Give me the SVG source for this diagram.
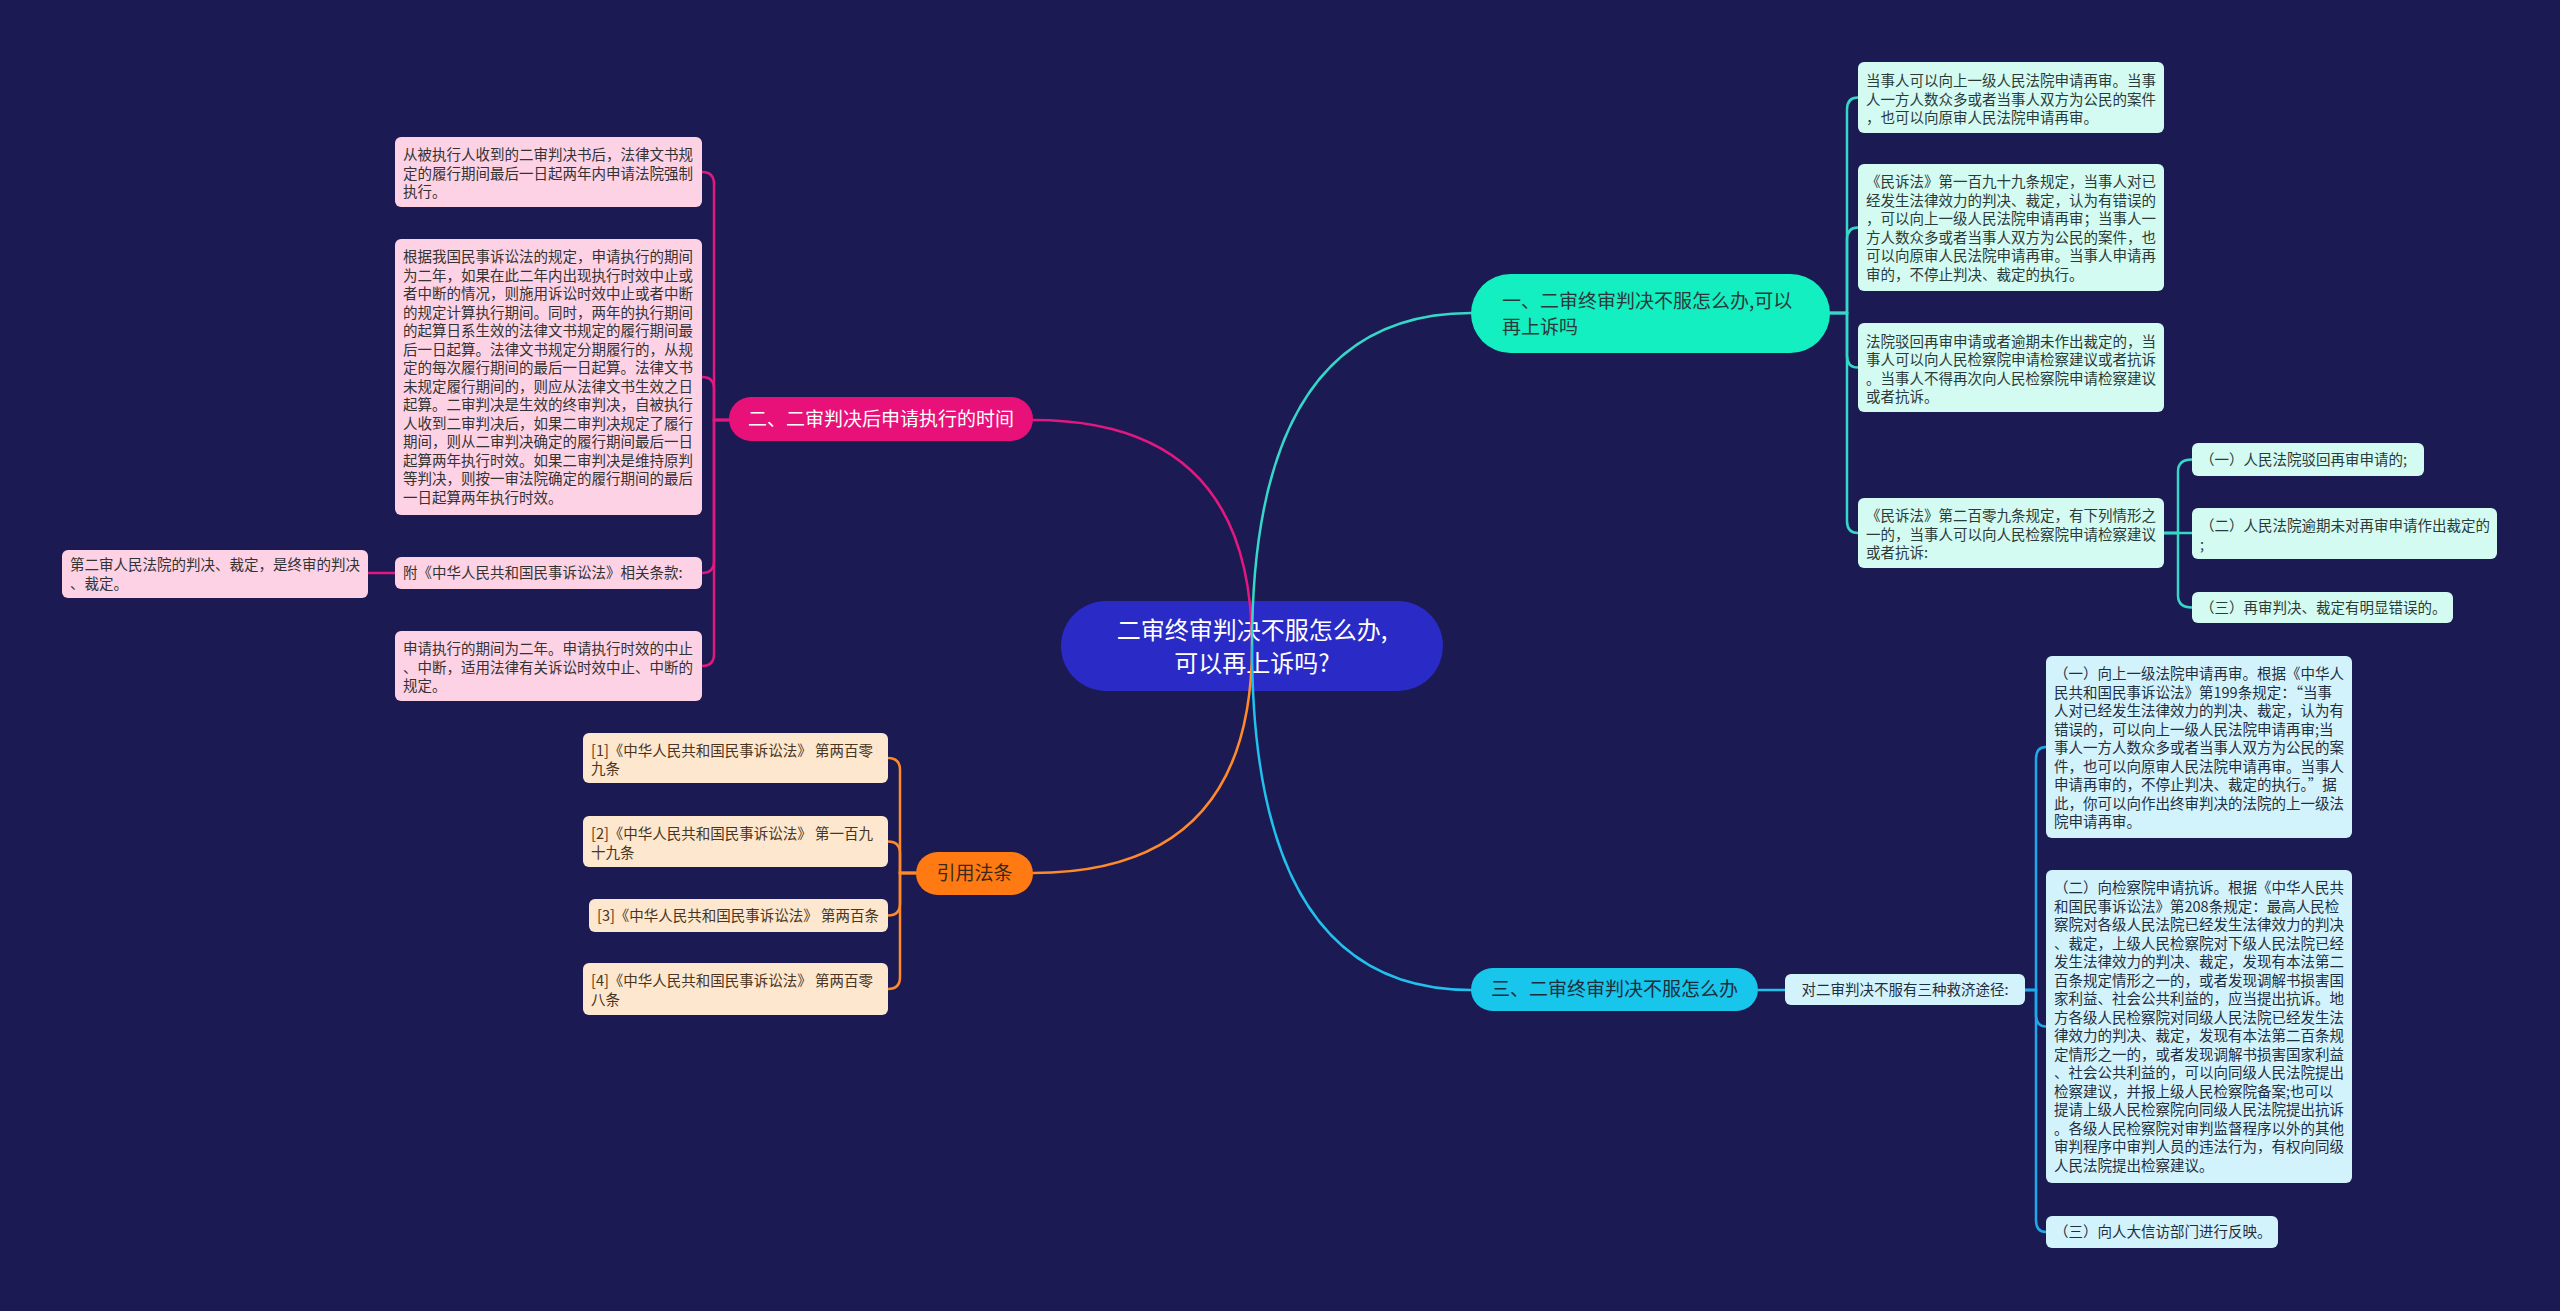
<svg xmlns="http://www.w3.org/2000/svg" width="2560" height="1311" viewBox="0 0 2560 1311">
<style>
text { font-family: "Noto Sans CJK SC", "Microsoft YaHei", "Noto Sans", sans-serif; }
.lf { font-size: 14.5px; }
.cp { fill: none; stroke-width: 2.5; stroke-linecap: round; }
.pk rect { fill: #fdd2e5; } .pk text { fill: #333333; }
.gr rect { fill: #d4fbf1; } .gr text { fill: #2b3a3a; }
.or rect { fill: #fde7cf; } .or text { fill: #4a3520; }
.bl rect { fill: #d3f3fc; } .bl text { fill: #1f2f3f; }
.br { font-size: 19px; }
</style>
<rect x="0" y="0" width="2560" height="1311" fill="#1b1a53"/>

<g id="root">
<rect x="1061" y="601" width="382" height="90" rx="45" fill="#2a2ac6"/>
<text x="1252" y="639" font-size="24" fill="#ffffff" text-anchor="middle">二审终审判决不服怎么办,</text>
<text x="1252" y="672" font-size="24" fill="#ffffff" text-anchor="middle">可以再上诉吗?</text>
</g>

<g id="connectors">
<path class="cp" stroke="#e0187f" d="M1252 646 Q1252 420 1033 420"/>
<path class="cp" stroke="#35d8c8" d="M1252 646 Q1252 313 1471 313"/>
<path class="cp" stroke="#ff8a2a" d="M1252 646 Q1252 873 1033 873"/>
<path class="cp" stroke="#22c0ec" d="M1252 646 Q1252 990 1471 990"/>

<path class="cp" stroke="#e0187f" d="M729 420 H714 V184 Q714 172 702 172"/>
<path class="cp" stroke="#e0187f" d="M729 420 H714 V389 Q714 377 702 377"/>
<path class="cp" stroke="#e0187f" d="M729 420 H714 V561 Q714 573 702 573"/>
<path class="cp" stroke="#e0187f" d="M729 420 H714 V654 Q714 666 702 666"/>
<path class="cp" stroke="#e0187f" d="M395 573 H368"/>

<path class="cp" stroke="#ff8a2a" d="M916 873 H900 V770 Q900 758 888 758"/>
<path class="cp" stroke="#ff8a2a" d="M916 873 H900 V853.5 Q900 841.5 888 841.5"/>
<path class="cp" stroke="#ff8a2a" d="M916 873 H900 V903.5 Q900 915.5 888 915.5"/>
<path class="cp" stroke="#ff8a2a" d="M916 873 H900 V977 Q900 989 888 989"/>

<path class="cp" stroke="#35d8c8" d="M1830 313 H1847 V109.5 Q1847 97.5 1858 97.5"/>
<path class="cp" stroke="#35d8c8" d="M1830 313 H1847 V239.5 Q1847 227.5 1858 227.5"/>
<path class="cp" stroke="#35d8c8" d="M1830 313 H1847 V355.5 Q1847 367.5 1858 367.5"/>
<path class="cp" stroke="#35d8c8" d="M1830 313 H1847 V521 Q1847 533 1858 533"/>

<path class="cp" stroke="#35d8c8" d="M2164 533 H2178 V471.5 Q2178 459.5 2192 459.5"/>
<path class="cp" stroke="#35d8c8" d="M2164 533 H2192"/>
<path class="cp" stroke="#35d8c8" d="M2164 533 H2178 V595.5 Q2178 607.5 2192 607.5"/>

<path class="cp" stroke="#22c0ec" d="M1758 990 H1785"/>
<path class="cp" stroke="#1fa8ea" d="M2025 990 H2036 V759 Q2036 747 2046 747"/>
<path class="cp" stroke="#1fa8ea" d="M2025 990 H2036 V1014.5 Q2036 1026.5 2046 1026.5"/>
<path class="cp" stroke="#1fa8ea" d="M2025 990 H2036 V1220 Q2036 1232 2046 1232"/>
</g>

<g id="b1">
<rect x="1471" y="274" width="359" height="79" rx="39.5" fill="#13efc0"/>
<text class="br" x="1502" y="308" fill="#2a3a3a">一、二审终审判决不服怎么办,可以</text>
<text class="br" x="1502" y="334" fill="#2a3a3a">再上诉吗</text>
</g>
<g id="b2">
<rect x="729" y="397" width="304" height="44" rx="22" fill="#e8117a"/>
<text class="br" x="881" y="426" fill="#ffffff" text-anchor="middle">二、二审判决后申请执行的时间</text>
</g>
<g id="b3">
<rect x="916" y="852" width="117" height="43" rx="21.5" fill="#ff7a12"/>
<text class="br" x="974.5" y="880" fill="#3a2a1a" text-anchor="middle">引用法条</text>
</g>
<g id="b4">
<rect x="1471" y="968" width="287" height="43" rx="21.5" fill="#18c5eb"/>
<text class="br" x="1614.5" y="996" fill="#1a2e3e" text-anchor="middle">三、二审终审判决不服怎么办</text>
</g>

<g id="p1" class="pk">
<rect x="395" y="137" width="307" height="70" rx="6"/>
<text class="lf"><tspan x="403" y="160">从被执行人收到的二审判决书后，法律文书规</tspan><tspan x="403" y="178.5">定的履行期间最后一日起两年内申请法院强制</tspan><tspan x="403" y="197">执行。</tspan></text>
</g>
<g id="p2" class="pk">
<rect x="395" y="239" width="307" height="276" rx="6"/>
<text class="lf"><tspan x="403" y="262">根据我国民事诉讼法的规定，申请执行的期间</tspan><tspan x="403" dy="18.5">为二年，如果在此二年内出现执行时效中止或</tspan><tspan x="403" dy="18.5">者中断的情况，则施用诉讼时效中止或者中断</tspan><tspan x="403" dy="18.5">的规定计算执行期间。同时，两年的执行期间</tspan><tspan x="403" dy="18.5">的起算日系生效的法律文书规定的履行期间最</tspan><tspan x="403" dy="18.5">后一日起算。法律文书规定分期履行的，从规</tspan><tspan x="403" dy="18.5">定的每次履行期间的最后一日起算。法律文书</tspan><tspan x="403" dy="18.5">未规定履行期间的，则应从法律文书生效之日</tspan><tspan x="403" dy="18.5">起算。二审判决是生效的终审判决，自被执行</tspan><tspan x="403" dy="18.5">人收到二审判决后，如果二审判决规定了履行</tspan><tspan x="403" dy="18.5">期间，则从二审判决确定的履行期间最后一日</tspan><tspan x="403" dy="18.5">起算两年执行时效。如果二审判决是维持原判</tspan><tspan x="403" dy="18.5">等判决，则按一审法院确定的履行期间的最后</tspan><tspan x="403" dy="18.5">一日起算两年执行时效。</tspan></text>
</g>
<g id="p3" class="pk">
<rect x="395" y="557" width="307" height="32" rx="6"/>
<text class="lf" x="403" y="578">附《中华人民共和国民事诉讼法》相关条款:</text>
</g>
<g id="p4" class="pk">
<rect x="395" y="631" width="307" height="70" rx="6"/>
<text class="lf"><tspan x="403" y="654">申请执行的期间为二年。申请执行时效的中止</tspan><tspan x="403" dy="18.5">、中断，适用法律有关诉讼时效中止、中断的</tspan><tspan x="403" dy="18.5">规定。</tspan></text>
</g>
<g id="l1" class="pk">
<rect x="62" y="550" width="306" height="48" rx="6"/>
<text class="lf"><tspan x="70" y="570">第二审人民法院的判决、裁定，是终审的判决</tspan><tspan x="70" dy="18.5">、裁定。</tspan></text>
</g>

<g id="c1" class="or">
<rect x="583" y="733" width="305" height="50" rx="6"/>
<text class="lf"><tspan x="591" y="755.5">[1]《中华人民共和国民事诉讼法》 第两百零</tspan><tspan x="591" dy="18.5">九条</tspan></text>
</g>
<g id="c2" class="or">
<rect x="583" y="816" width="305" height="51" rx="6"/>
<text class="lf"><tspan x="591" y="839">[2]《中华人民共和国民事诉讼法》 第一百九</tspan><tspan x="591" dy="18.5">十九条</tspan></text>
</g>
<g id="c3" class="or">
<rect x="589" y="899" width="299" height="33" rx="6"/>
<text class="lf" x="597" y="920.5">[3]《中华人民共和国民事诉讼法》 第两百条</text>
</g>
<g id="c4" class="or">
<rect x="583" y="963" width="305" height="52" rx="6"/>
<text class="lf"><tspan x="591" y="986">[4]《中华人民共和国民事诉讼法》 第两百零</tspan><tspan x="591" dy="18.5">八条</tspan></text>
</g>

<g id="g1" class="gr">
<rect x="1858" y="62" width="306" height="71" rx="6"/>
<text class="lf"><tspan x="1866" y="86">当事人可以向上一级人民法院申请再审。当事</tspan><tspan x="1866" dy="18.5">人一方人数众多或者当事人双方为公民的案件</tspan><tspan x="1866" dy="18.5">，也可以向原审人民法院申请再审。</tspan></text>
</g>
<g id="g2" class="gr">
<rect x="1858" y="164" width="306" height="127" rx="6"/>
<text class="lf"><tspan x="1866" y="187">《民诉法》第一百九十九条规定，当事人对已</tspan><tspan x="1866" dy="18.5">经发生法律效力的判决、裁定，认为有错误的</tspan><tspan x="1866" dy="18.5">，可以向上一级人民法院申请再审；当事人一</tspan><tspan x="1866" dy="18.5">方人数众多或者当事人双方为公民的案件，也</tspan><tspan x="1866" dy="18.5">可以向原审人民法院申请再审。当事人申请再</tspan><tspan x="1866" dy="18.5">审的，不停止判决、裁定的执行。</tspan></text>
</g>
<g id="g3" class="gr">
<rect x="1858" y="323" width="306" height="89" rx="6"/>
<text class="lf"><tspan x="1866" y="346.5">法院驳回再审申请或者逾期未作出裁定的，当</tspan><tspan x="1866" dy="18.5">事人可以向人民检察院申请检察建议或者抗诉</tspan><tspan x="1866" dy="18.5">。当事人不得再次向人民检察院申请检察建议</tspan><tspan x="1866" dy="18.5">或者抗诉。</tspan></text>
</g>
<g id="g4" class="gr">
<rect x="1858" y="498" width="306" height="70" rx="6"/>
<text class="lf"><tspan x="1866" y="521">《民诉法》第二百零九条规定，有下列情形之</tspan><tspan x="1866" dy="18.5">一的，当事人可以向人民检察院申请检察建议</tspan><tspan x="1866" dy="18.5">或者抗诉:</tspan></text>
</g>
<g id="h1" class="gr">
<rect x="2192" y="443" width="232" height="33" rx="6"/>
<text class="lf" x="2200" y="464.5">（一）人民法院驳回再审申请的;</text>
</g>
<g id="h2" class="gr">
<rect x="2192" y="508" width="305" height="51" rx="6"/>
<text class="lf"><tspan x="2200" y="531">（二）人民法院逾期未对再审申请作出裁定的</tspan><tspan x="2200" dy="18.5">;</tspan></text>
</g>
<g id="h3" class="gr">
<rect x="2192" y="592" width="261" height="31" rx="6"/>
<text class="lf" x="2200" y="612.5">（三）再审判决、裁定有明显错误的。</text>
</g>

<g id="bn0" class="bl">
<rect x="1785" y="974" width="240" height="31" rx="6"/>
<text class="lf" x="1905" y="994.5" text-anchor="middle">对二审判决不服有三种救济途径:</text>
</g>
<g id="bn1" class="bl">
<rect x="2046" y="656" width="306" height="182" rx="6"/>
<text class="lf"><tspan x="2054" y="679">（一）向上一级法院申请再审。根据《中华人</tspan><tspan x="2054" dy="18.5">民共和国民事诉讼法》第199条规定：“当事</tspan><tspan x="2054" dy="18.5">人对已经发生法律效力的判决、裁定，认为有</tspan><tspan x="2054" dy="18.5">错误的，可以向上一级人民法院申请再审;当</tspan><tspan x="2054" dy="18.5">事人一方人数众多或者当事人双方为公民的案</tspan><tspan x="2054" dy="18.5">件，也可以向原审人民法院申请再审。当事人</tspan><tspan x="2054" dy="18.5">申请再审的，不停止判决、裁定的执行。”据</tspan><tspan x="2054" dy="18.5">此，你可以向作出终审判决的法院的上一级法</tspan><tspan x="2054" dy="18.5">院申请再审。</tspan></text>
</g>
<g id="bn2" class="bl">
<rect x="2046" y="870" width="306" height="313" rx="6"/>
<text class="lf"><tspan x="2054" y="893">（二）向检察院申请抗诉。根据《中华人民共</tspan><tspan x="2054" dy="18.5">和国民事诉讼法》第208条规定：最高人民检</tspan><tspan x="2054" dy="18.5">察院对各级人民法院已经发生法律效力的判决</tspan><tspan x="2054" dy="18.5">、裁定，上级人民检察院对下级人民法院已经</tspan><tspan x="2054" dy="18.5">发生法律效力的判决、裁定，发现有本法第二</tspan><tspan x="2054" dy="18.5">百条规定情形之一的，或者发现调解书损害国</tspan><tspan x="2054" dy="18.5">家利益、社会公共利益的，应当提出抗诉。地</tspan><tspan x="2054" dy="18.5">方各级人民检察院对同级人民法院已经发生法</tspan><tspan x="2054" dy="18.5">律效力的判决、裁定，发现有本法第二百条规</tspan><tspan x="2054" dy="18.5">定情形之一的，或者发现调解书损害国家利益</tspan><tspan x="2054" dy="18.5">、社会公共利益的，可以向同级人民法院提出</tspan><tspan x="2054" dy="18.5">检察建议，并报上级人民检察院备案;也可以</tspan><tspan x="2054" dy="18.5">提请上级人民检察院向同级人民法院提出抗诉</tspan><tspan x="2054" dy="18.5">。各级人民检察院对审判监督程序以外的其他</tspan><tspan x="2054" dy="18.5">审判程序中审判人员的违法行为，有权向同级</tspan><tspan x="2054" dy="18.5">人民法院提出检察建议。</tspan></text>
</g>
<g id="bn3" class="bl">
<rect x="2046" y="1216" width="232" height="32" rx="6"/>
<text class="lf" x="2054" y="1237">（三）向人大信访部门进行反映。</text>
</g>
</svg>
